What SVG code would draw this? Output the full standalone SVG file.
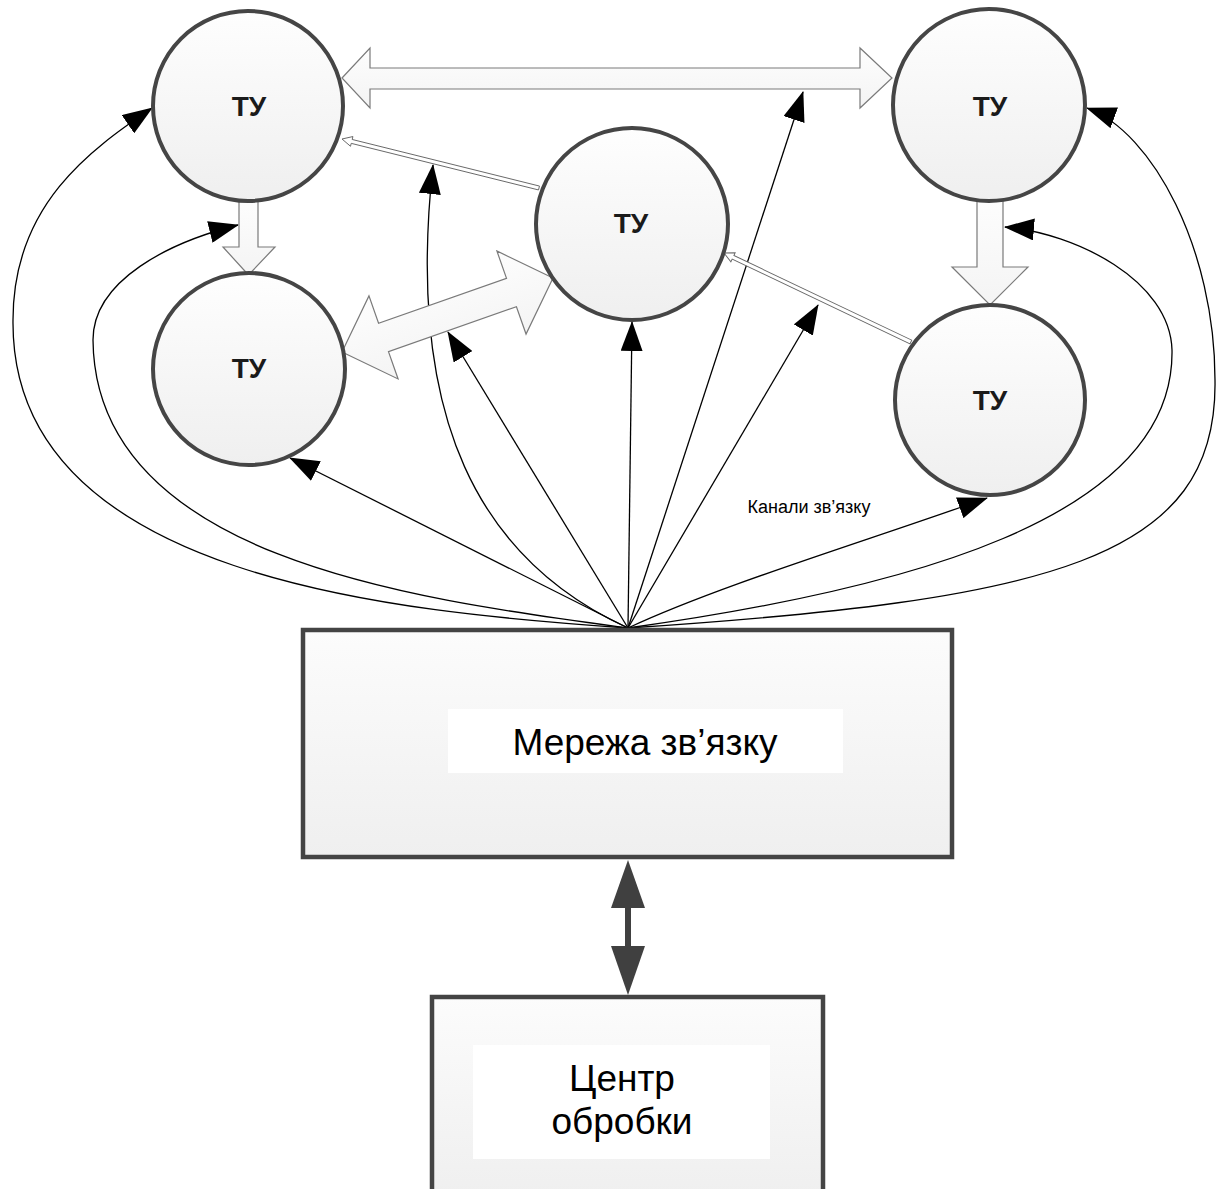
<svg xmlns="http://www.w3.org/2000/svg" width="1216" height="1189" viewBox="0 0 1216 1189">
<defs>
<style>
.node-c{fill:url(#gc);stroke:#454545;stroke-width:4}
.box{fill:url(#gb);stroke:#444;stroke-width:4.5}
.lbl{fill:#fff}
.ty{font-family:"Liberation Sans",Arial,sans-serif;font-weight:bold;font-size:28px;fill:#1a1a1a;text-anchor:middle}
.big{font-family:"Liberation Sans",Arial,sans-serif;font-size:37px;fill:#000;text-anchor:middle}
.small{font-family:"Liberation Sans",Arial,sans-serif;font-size:18px;fill:#000;text-anchor:middle}
.blk{fill:url(#ga);stroke:#7a7a7a;stroke-width:1.2;stroke-linejoin:miter}
.thin{fill:#fff;stroke:#666;stroke-width:0.9}
.con{fill:none;stroke:#000;stroke-width:1.3;marker-end:url(#ah)}
</style>
<linearGradient id="gc" x1="0" y1="0" x2="0" y2="1">
<stop offset="0" stop-color="#fefefe"/><stop offset="1" stop-color="#efefef"/>
</linearGradient>
<linearGradient id="gb" x1="0" y1="0" x2="0" y2="1">
<stop offset="0" stop-color="#fcfcfc"/><stop offset="1" stop-color="#efefef"/>
</linearGradient>
<linearGradient id="ga" x1="0" y1="0" x2="0" y2="1">
<stop offset="0" stop-color="#fdfdfd"/><stop offset="1" stop-color="#f4f4f4"/>
</linearGradient>
<marker id="ah" markerUnits="userSpaceOnUse" markerWidth="30" markerHeight="22" refX="29" refY="11" orient="auto" viewBox="0 0 30 22">
<path d="M0,0 L30,11 L0,22 z" fill="#000"/>
</marker>
</defs>
<rect width="1216" height="1189" fill="#fff"/>

<g id="connectors">
<path class="con" d="M628,628 C400,612 10,580 13,320 C13,205 90,150 152,108"/>
<path class="con" d="M628,628 C420,600 95,560 93,340 C93,280 170,242 238,225"/>
<path class="con" d="M628,628 L290,458"/>
<path class="con" d="M628,628 C480,560 405,420 433,165"/>
<path class="con" d="M628,628 L448,332"/>
<path class="con" d="M628,628 L632,322"/>
<path class="con" d="M628,628 L803,92"/>
<path class="con" d="M628,628 L818,305"/>
<path class="con" d="M628,628 C720,585 870,540 987,498"/>
<path class="con" d="M628,628 C900,590 1175,520 1172,350 C1170,280 1075,233 1005,227"/>
<path class="con" d="M628,628 C1050,600 1218,560 1215,380 C1215,250 1153,132 1087,108"/>
<polygon class="blk" points="342,78 370,48 370,68 860,68 860,48 892,78 860,108 860,89 370,89 370,108"/>
<polygon class="blk" points="239,200 258,200 258,247 275,247 248.5,275 223,247 239,247"/>
<polygon class="blk" points="977,200 1003,200 1003,267 1028,267 990,305 952,267 977,267"/>
<polygon class="blk" transform="translate(342,352) rotate(-19.33)" points="0,0 44,-44 44,-15 179.6,-15 179.6,-44 223.6,0 179.6,44 179.6,15 44,15 44,44"/>
<polygon class="thin" transform="translate(342,139) rotate(13.97)" points="0,0 10,-5 10,-2 203,-2 203,2 10,2 10,5"/>
<polygon class="thin" transform="translate(724,253) rotate(25.46)" points="0,0 10,-5 10,-2 207,-2 207,2 10,2 10,5"/>
<g fill="#404040">
<rect x="625" y="905" width="6" height="44"/>
<polygon points="628,860 645,908 611,908"/>
<polygon points="611,946 645,946 628,995"/>
</g>
</g>

<g id="tu-top-left">
<circle class="node-c" cx="248" cy="106" r="95"/>
<text class="ty" x="249" y="116">ТУ</text>
</g>
<g id="tu-bottom-left">
<circle class="node-c" cx="249" cy="369" r="96"/>
<text class="ty" x="249" y="378">ТУ</text>
</g>
<g id="tu-center">
<circle class="node-c" cx="632" cy="224" r="96"/>
<text class="ty" x="631" y="233">ТУ</text>
</g>
<g id="tu-top-right">
<circle class="node-c" cx="989" cy="105" r="96"/>
<text class="ty" x="990" y="116">ТУ</text>
</g>
<g id="tu-bottom-right">
<circle class="node-c" cx="990" cy="400" r="95"/>
<text class="ty" x="990" y="410">ТУ</text>
</g>

<g id="label-channels">
<text class="small" x="809" y="513">Канали зв’язку</text>
</g>

<g id="network">
<rect class="box" x="303" y="630" width="649" height="227"/>
<rect class="lbl" x="448" y="709" width="395" height="64"/>
<text class="big" x="645" y="755">Мережа зв’язку</text>
</g>

<g id="center">
<rect class="box" x="432" y="997" width="391" height="200"/>
<rect class="lbl" x="473" y="1045" width="297" height="114"/>
<text class="big" x="622" y="1091">Центр</text>
<text class="big" x="622" y="1134">обробки</text>
</g>
</svg>
